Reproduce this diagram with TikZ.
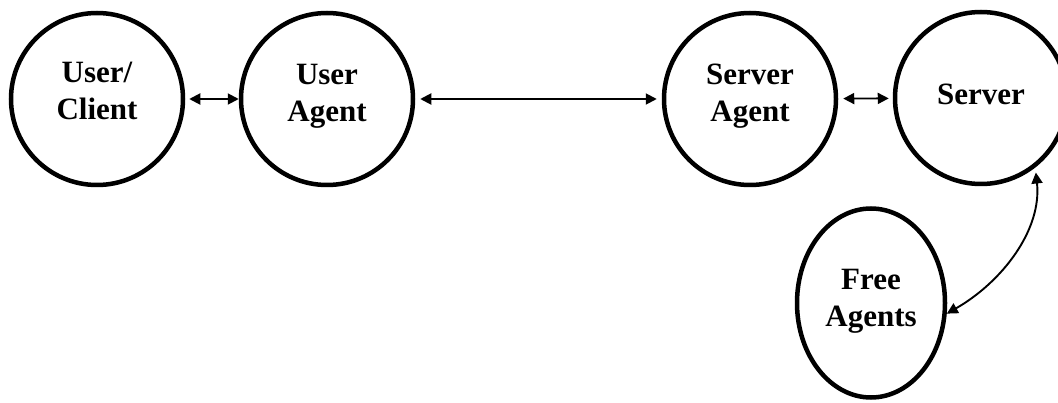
\documentclass[tikz,border=0pt]{standalone}
\usepackage{fontspec}
\setmainfont{Liberation Serif}
\usetikzlibrary{arrows.meta,shapes.geometric}
\begin{document}
\begin{tikzpicture}[x=1pt,y=1pt,
  agent/.style={circle,draw,line width=4.5pt,minimum size=172pt,inner sep=0pt},
  free/.style={ellipse,draw,line width=4.5pt,minimum width=148pt,minimum height=189pt,inner sep=0pt},
  lbl/.style={font=\fontsize{31}{37}\selectfont\bfseries,align=center,text depth=0pt},
  conn/.style={line width=1.9pt,{Triangle[length=11pt,width=11pt]}-{Triangle[length=11pt,width=11pt]}}
]
\clip (0,0) rectangle (1058,402);
\useasboundingbox (0,0) rectangle (1058,402);
\node[agent,label={[lbl,yshift=8pt]center:User/\\Client}] (uc) at (97,303) {};
\node[agent,label={[lbl,yshift=6pt]center:User\\Agent}] (ua) at (327,303) {};
\node[agent,label={[lbl,yshift=6pt]center:Server\\Agent}] (sa) at (750,303) {};
\node[agent,label={[lbl,yshift=4pt]center:Server}] (srv) at (981,304) {};
\node[free,label={[lbl,yshift=5pt]center:Free\\Agents}] (fa) at (871,99) {};
\draw[conn,shorten <=4pt] (uc) -- (ua);
\draw[conn,shorten <=5pt,shorten >=5pt] (ua) -- (sa);
\draw[conn,shorten <=5pt,shorten >=4pt] (sa) -- (srv);
\draw[conn,shorten >=5pt] (fa.-8) .. controls (1002,120) and (1042,172) .. (srv.-52);
\end{tikzpicture}
\end{document}
